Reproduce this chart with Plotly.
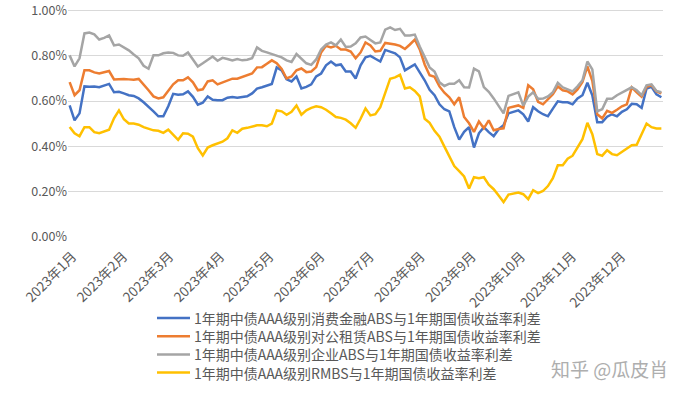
import plotly.graph_objects as go

dates = [
    "2023-01-01","2023-01-04","2023-01-07","2023-01-10","2023-01-13","2023-01-16","2023-01-19","2023-01-22","2023-01-25","2023-01-28","2023-01-31",
    "2023-02-03","2023-02-06","2023-02-09","2023-02-12","2023-02-15","2023-02-18","2023-02-21","2023-02-24","2023-02-27",
    "2023-03-02","2023-03-05","2023-03-08","2023-03-11","2023-03-14","2023-03-17","2023-03-20","2023-03-23","2023-03-26","2023-03-29",
    "2023-04-01","2023-04-04","2023-04-07","2023-04-10","2023-04-13","2023-04-16","2023-04-19","2023-04-22","2023-04-25","2023-04-28",
    "2023-05-01","2023-05-04","2023-05-07","2023-05-10","2023-05-13","2023-05-16","2023-05-19","2023-05-22","2023-05-25","2023-05-28","2023-05-31",
    "2023-06-03","2023-06-06","2023-06-09","2023-06-12","2023-06-15","2023-06-18","2023-06-21","2023-06-24","2023-06-27","2023-06-30",
    "2023-07-03","2023-07-06","2023-07-09","2023-07-12","2023-07-15","2023-07-18","2023-07-21","2023-07-24","2023-07-27","2023-07-30",
    "2023-08-02","2023-08-05","2023-08-08","2023-08-11","2023-08-14","2023-08-17","2023-08-20","2023-08-23","2023-08-26","2023-08-29",
    "2023-09-01","2023-09-04","2023-09-07","2023-09-10","2023-09-13","2023-09-16","2023-09-19","2023-09-22","2023-09-25","2023-09-28",
    "2023-10-01","2023-10-04","2023-10-07","2023-10-10","2023-10-13","2023-10-16","2023-10-19","2023-10-22","2023-10-25","2023-10-28","2023-10-31",
    "2023-11-03","2023-11-06","2023-11-09","2023-11-12","2023-11-15","2023-11-18","2023-11-21","2023-11-24","2023-11-27","2023-11-30",
    "2023-12-03","2023-12-06","2023-12-09","2023-12-12","2023-12-15","2023-12-18","2023-12-21","2023-12-24","2023-12-27",
]

consumer_finance = [
    0.581,0.515,0.546,0.665,0.663,0.665,0.661,0.667,0.676,0.639,0.641,
    0.634,0.626,0.623,0.612,0.595,0.577,0.555,0.533,0.533,
    0.577,0.632,0.628,0.630,0.643,0.619,0.584,0.593,0.621,0.606,
    0.604,0.604,0.615,0.618,0.615,0.619,0.621,0.634,0.655,0.661,
    0.670,0.676,0.749,0.736,0.696,0.687,0.709,0.656,0.663,0.674,0.709,
    0.722,0.758,0.775,0.758,0.762,0.731,0.731,0.700,0.758,0.793,
    0.800,0.787,0.775,0.826,0.819,0.811,0.793,0.736,0.749,0.762,
    0.727,0.692,0.650,0.626,0.586,0.564,0.555,0.485,0.430,0.464,
    0.485,0.395,0.458,0.485,0.463,0.445,0.476,0.493,0.546,0.553,
    0.559,0.542,0.510,0.573,0.555,0.542,0.533,0.567,0.599,0.595,0.595,
    0.586,0.612,0.626,0.681,0.626,0.507,0.507,0.531,0.542,0.533,
    0.553,0.564,0.588,0.586,0.570,0.656,0.663,0.630,0.617,
]

public_rental = [
    0.684,0.626,0.648,0.736,0.736,0.727,0.722,0.727,0.733,0.696,0.698,
    0.698,0.696,0.694,0.698,0.674,0.648,0.621,0.612,0.617,
    0.643,0.674,0.692,0.692,0.705,0.683,0.648,0.652,0.687,0.692,
    0.674,0.683,0.689,0.699,0.699,0.706,0.714,0.722,0.749,0.750,
    0.765,0.780,0.767,0.742,0.700,0.709,0.736,0.744,0.728,0.731,0.750,
    0.815,0.844,0.837,0.844,0.828,0.828,0.819,0.789,0.815,0.859,
    0.846,0.819,0.822,0.857,0.855,0.850,0.844,0.830,0.850,0.872,
    0.828,0.762,0.714,0.707,0.665,0.637,0.617,0.586,0.617,0.530,
    0.502,0.464,0.510,0.480,0.515,0.471,0.477,0.480,0.570,0.577,
    0.581,0.570,0.670,0.652,0.597,0.586,0.608,0.630,0.665,0.648,0.643,
    0.630,0.652,0.685,0.753,0.690,0.542,0.524,0.557,0.548,0.562,
    0.577,0.586,0.661,0.639,0.619,0.663,0.670,0.643,0.634,
]

enterprise = [
    0.802,0.753,0.789,0.899,0.903,0.895,0.872,0.879,0.890,0.846,0.850,
    0.837,0.824,0.806,0.789,0.756,0.743,0.802,0.802,0.811,
    0.815,0.813,0.802,0.800,0.815,0.784,0.753,0.767,0.784,0.797,
    0.778,0.791,0.786,0.780,0.786,0.780,0.783,0.789,0.837,0.822,
    0.815,0.808,0.802,0.793,0.780,0.773,0.808,0.789,0.767,0.760,0.784,
    0.828,0.850,0.859,0.846,0.872,0.839,0.841,0.855,0.881,0.885,
    0.870,0.855,0.859,0.916,0.926,0.914,0.919,0.890,0.890,0.894,
    0.841,0.791,0.749,0.731,0.683,0.667,0.677,0.677,0.692,0.661,
    0.660,0.743,0.731,0.662,0.641,0.612,0.581,0.546,0.623,0.630,
    0.639,0.580,0.620,0.639,0.610,0.611,0.621,0.639,0.681,0.661,0.653,
    0.643,0.665,0.692,0.775,0.740,0.555,0.564,0.610,0.610,0.626,
    0.637,0.648,0.661,0.648,0.626,0.670,0.674,0.645,0.639,
]

rmbs = [
    0.486,0.458,0.445,0.485,0.485,0.463,0.458,0.467,0.474,0.524,0.559,
    0.520,0.501,0.501,0.496,0.485,0.478,0.471,0.469,0.460,
    0.474,0.452,0.429,0.458,0.456,0.443,0.392,0.360,0.395,0.405,
    0.414,0.421,0.436,0.471,0.460,0.478,0.482,0.487,0.493,0.493,
    0.489,0.501,0.559,0.555,0.540,0.553,0.581,0.540,0.559,0.570,0.577,
    0.573,0.562,0.546,0.530,0.526,0.518,0.502,0.482,0.522,0.568,
    0.537,0.542,0.573,0.634,0.699,0.705,0.716,0.656,0.661,0.645,
    0.621,0.522,0.504,0.469,0.443,0.399,0.357,0.313,0.291,0.267,
    0.214,0.264,0.260,0.264,0.231,0.211,0.183,0.154,0.187,0.193,
    0.196,0.189,0.167,0.207,0.194,0.203,0.225,0.260,0.317,0.317,0.346,
    0.359,0.394,0.432,0.504,0.454,0.366,0.359,0.383,0.366,0.361,
    0.376,0.388,0.405,0.407,0.458,0.501,0.485,0.479,0.479,
]

series_names = [
    "1年期中债AAA级别消费金融ABS与1年期国债收益率利差",
    "1年期中债AAA级别对公租赁ABS与1年期国债收益率利差",
    "1年期中债AAA级别企业ABS与1年期国债收益率利差",
    "1年期中债AAA级别RMBS与1年期国债收益率利差",
]
series_colors = ["#4472C4", "#ED7D31", "#A5A5A5", "#FFC000"]

month_ticks = ["2023-%02d-01" % m for m in range(1, 13)]
month_labels = ["2023年%d月" % m for m in range(1, 13)]

FONT = "Noto Sans CJK SC"
W, H = 692, 395
ML, MR, MT, MB = 68, 29, 6, 158
PW, PH = W - ML - MR, H - MT - MB
LEG_FONT = 14
LEG_STEP = LEG_FONT * 1.3


def px_x(p):
    return (p - ML) / PW


def px_y(p):
    return (H - MB - p) / PH


fig = go.Figure()
for name, vals, col in zip(series_names, [consumer_finance, public_rental, enterprise, rmbs], series_colors):
    fig.add_trace(go.Scatter(x=dates, y=vals, mode="lines", name=name,
                             line=dict(color=col, width=2.5)))

# legend: coloured sample lines + one multi-line text block (real text)
leg_top = 318
shapes = []
for i, col in enumerate(series_colors):
    ry = leg_top + i * LEG_STEP
    shapes.append(dict(type="line", xref="paper", yref="paper",
                       x0=px_x(157), x1=px_x(190), y0=px_y(ry), y1=px_y(ry),
                       line=dict(color=col, width=2.5)))
leg_mid = leg_top + 1.5 * LEG_STEP
annotations = [
    dict(text="<br>".join(series_names), xref="paper", yref="paper",
         x=px_x(193), y=px_y(leg_mid), xanchor="left", yanchor="middle",
         align="left", showarrow=False, borderpad=0,
         font=dict(size=LEG_FONT, color="#595959", family=FONT)),
    dict(text="知乎 @瓜皮肖", xref="paper", yref="paper",
         x=px_x(609), y=px_y(368), xanchor="center", yanchor="middle",
         showarrow=False,
         font=dict(size=19, color="#AEAEAE", family=FONT)),
]

fig.update_layout(
    width=W, height=H,
    margin=dict(l=ML, r=MR, t=MT, b=MB, autoexpand=False),
    paper_bgcolor="white", plot_bgcolor="white",
    font=dict(family=FONT, color="#595959"),
    showlegend=False,
    xaxis=dict(type="date", range=["2022-12-31", "2023-12-28"],
               tickvals=month_ticks, ticktext=month_labels, tickangle=-45,
               showgrid=False, zeroline=False, showline=False, ticks="",
               automargin=False, ticklabelstandoff=8, ticklabelshift=3,
               ticklabeloverflow="allow",
               tickfont=dict(size=13.5, color="#595959", family=FONT)),
    yaxis=dict(range=[0, 1.02], tickmode="linear", tick0=0, dtick=0.2,
               tickformat=".2f", ticksuffix="%", ticklabeloverflow="allow",
               showgrid=True, gridcolor="#D9D9D9", gridwidth=1, zeroline=False,
               showline=False, ticks="", automargin=False,
               tickfont=dict(size=12.5, color="#595959", family=FONT)),
    shapes=shapes,
    annotations=annotations,
)

fig.write_html("out.html", config={"displayModeBar": False},
               post_script="document.body.style.margin='0px';")
